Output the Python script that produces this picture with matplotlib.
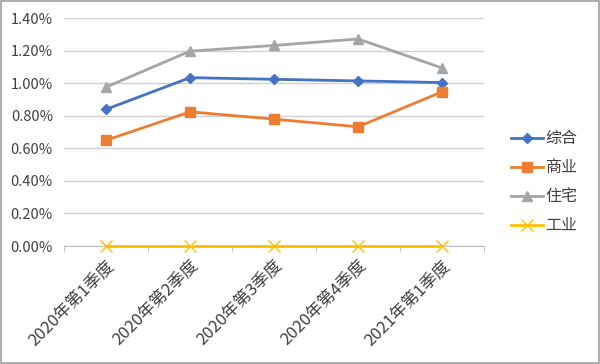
import matplotlib.pyplot as plt
from matplotlib.ticker import FuncFormatter, FixedLocator

plt.rcParams['font.family'] = ['Noto Sans CJK SC', 'DejaVu Sans']

# 数据
categories = ['2020年第1季度', '2020年第2季度', '2020年第3季度', '2020年第4季度', '2021年第1季度']
zonghe = [0.84, 1.035, 1.025, 1.015, 1.005]
shangye = [0.65, 0.825, 0.78, 0.733, 0.948]
zhuzhai = [0.977, 1.198, 1.233, 1.273, 1.095]
gongye = [0.0, 0.0, 0.0, 0.0, 0.0]

fig = plt.figure(figsize=(6, 3.64), dpi=100)
ax = fig.add_axes([64 / 600, (364 - 246) / 364, 420 / 600, (246 - 18.3) / 364])

x = list(range(len(categories)))
ax.plot(x, zonghe, color='#4472C4', lw=2, marker='D', ms=5.5, label='综合', zorder=4)
ax.plot(x, shangye, color='#ED7D31', lw=2, marker='s', ms=7, label='商业', zorder=4)
ax.plot(x, zhuzhai, color='#A5A5A5', lw=2, marker='^', ms=7.5, label='住宅', zorder=3)
ax.plot(x, gongye, color='#FFC000', lw=2, marker='x', ms=8, mew=1, label='工业', zorder=5,
        clip_on=False)

ax.set_xlim(-0.5, len(categories) - 0.5)
ax.set_ylim(0, 1.4)
ax.set_yticks([0, 0.2, 0.4, 0.6, 0.8, 1.0, 1.2, 1.4])
ax.yaxis.set_major_formatter(FuncFormatter(lambda v, p: f'{v:.2f}%'))
ax.grid(axis='y', color='#D0D0D0', lw=1)
ax.set_axisbelow(True)

ax.set_xticks(x)
ax.set_xticklabels(categories, rotation=45, ha='right', rotation_mode='anchor', fontsize=12, color='#404040')
ax.tick_params(axis='x', length=0, pad=8)
ax.xaxis.set_minor_locator(FixedLocator([i - 0.5 for i in range(len(categories) + 1)]))
ax.tick_params(axis='x', which='minor', length=4, color='#BFBFBF')
ax.tick_params(axis='y', length=0, labelsize=10.5, labelcolor='#404040', pad=8)

for s in ['top', 'right', 'left']:
    ax.spines[s].set_visible(False)
ax.spines['bottom'].set_color('#BFBFBF')

leg = ax.legend(loc='center left', bbox_to_anchor=(1.03, 0.28), frameon=False,
                fontsize=11.5, handlelength=2.0, labelspacing=0.75, handletextpad=0.15)
for t in leg.get_texts():
    t.set_color('#404040')

# 外框
fig.patches.append(plt.Rectangle((0.002, 0.003), 0.996, 0.994, transform=fig.transFigure,
                                 fill=False, edgecolor='#A0A0A0', lw=1.2))

fig.savefig('out.png', dpi=100)
